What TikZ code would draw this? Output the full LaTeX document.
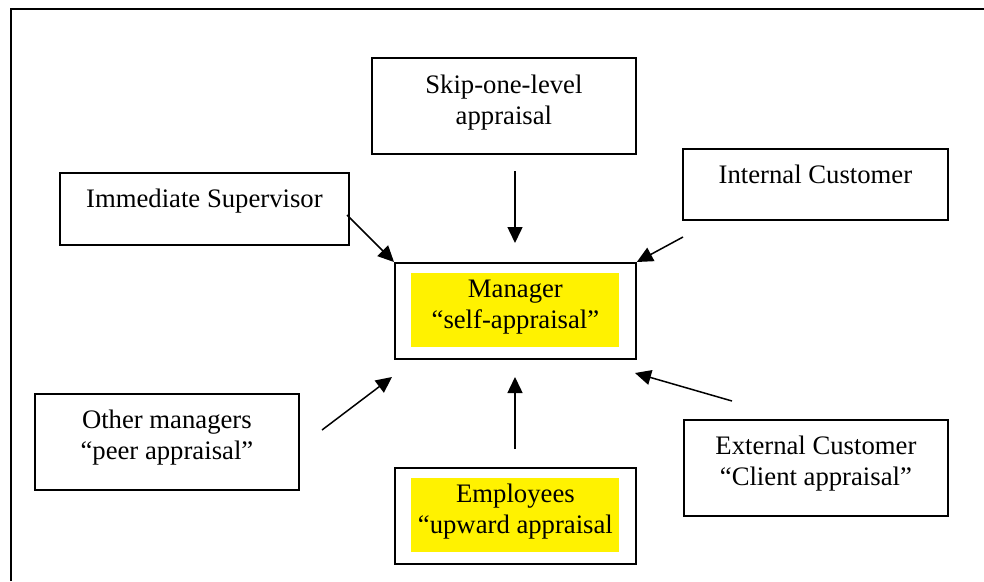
\documentclass[tikz,border=0pt]{standalone}
\usepackage{fontspec}
\setmainfont{Liberation Serif}
\usetikzlibrary{arrows.meta,calc}
\begin{document}
\begin{tikzpicture}[x=1pt,y=-1pt,
  box/.style={draw, line width=1.8pt, anchor=north west, inner sep=0pt},
  hl/.style={fill=yellow, anchor=north west, inner sep=0pt},
  lbl/.style={anchor=base, inner sep=0pt, font=\fontsize{26.7}{31}\selectfont},
  arr/.style={line width=1.5pt, -{Triangle[length=16pt,width=15pt]}}]
\useasboundingbox (0,0) rectangle (984,581);
\draw[line width=1.5pt] (11,581) -- (11,9) -- (984,9);
% boxes
\node[box, minimum width=264pt, minimum height=96pt] (skip) at (371,57) {};
\node[box, minimum width=289pt, minimum height=72pt] (imm) at (59,172) {};
\node[box, minimum width=265pt, minimum height=71pt] (int) at (682,148) {};
\node[box, minimum width=241pt, minimum height=96pt] (mgr) at (394,262) {};
\node[box, minimum width=264pt, minimum height=96pt] (oth) at (34,393) {};
\node[box, minimum width=241pt, minimum height=96pt] (emp) at (394,467) {};
\node[box, minimum width=264pt, minimum height=96pt] (ext) at (683,419) {};
\node[hl, minimum width=208pt, minimum height=74pt] (mgrhl) at (411,273) {};
\node[hl, minimum width=208pt, minimum height=74pt] (emphl) at (411,478) {};
% labels
\node[lbl] (skipt) at ($(skip.north)+(0,36)$) {\begin{tabular}[t]{@{}c@{}}Skip-one-level\\appraisal\end{tabular}};
\node[lbl] (immt) at ($(imm.north)+(0,35)$) {Immediate Supervisor};
\node[lbl] (intt) at ($(int.north)+(0,35)$) {Internal Customer};
\node[lbl] (mgrt) at ($(mgr.north)+(0,35)$) {\begin{tabular}[t]{@{}c@{}}Manager\\“self-appraisal”\end{tabular}};
\node[lbl] (otht) at ($(oth.north)+(0,35)$) {\begin{tabular}[t]{@{}c@{}}Other managers\\“peer appraisal”\end{tabular}};
\node[lbl] (empt) at ($(emp.north)+(0,35)$) {\begin{tabular}[t]{@{}c@{}}Employees\\“upward appraisal\end{tabular}};
\node[lbl] (extt) at ($(ext.north)+(0,35)$) {\begin{tabular}[t]{@{}c@{}}External Customer\\“Client appraisal”\end{tabular}};
% arrow end points
\coordinate (s1) at (515,171);
\coordinate (s2) at (515,243);
\coordinate (i1) at (347,215);
\coordinate (n1) at (683,237);
\coordinate (e1) at (732,401);
\coordinate (e2) at (635,373);
\coordinate (o1) at (322,430);
\coordinate (o2) at (392,377);
\coordinate (p1) at (515,449);
\coordinate (p2) at (515,377);
% arrows
\draw[arr] (s1) -- (s2);
\draw[arr] (i1) -- (mgr.north west);
\draw[arr] (n1) -- (mgr.north east);
\draw[arr] (e1) -- (e2);
\draw[arr] (o1) -- (o2);
\draw[arr] (p1) -- (p2);
\end{tikzpicture}
\end{document}
